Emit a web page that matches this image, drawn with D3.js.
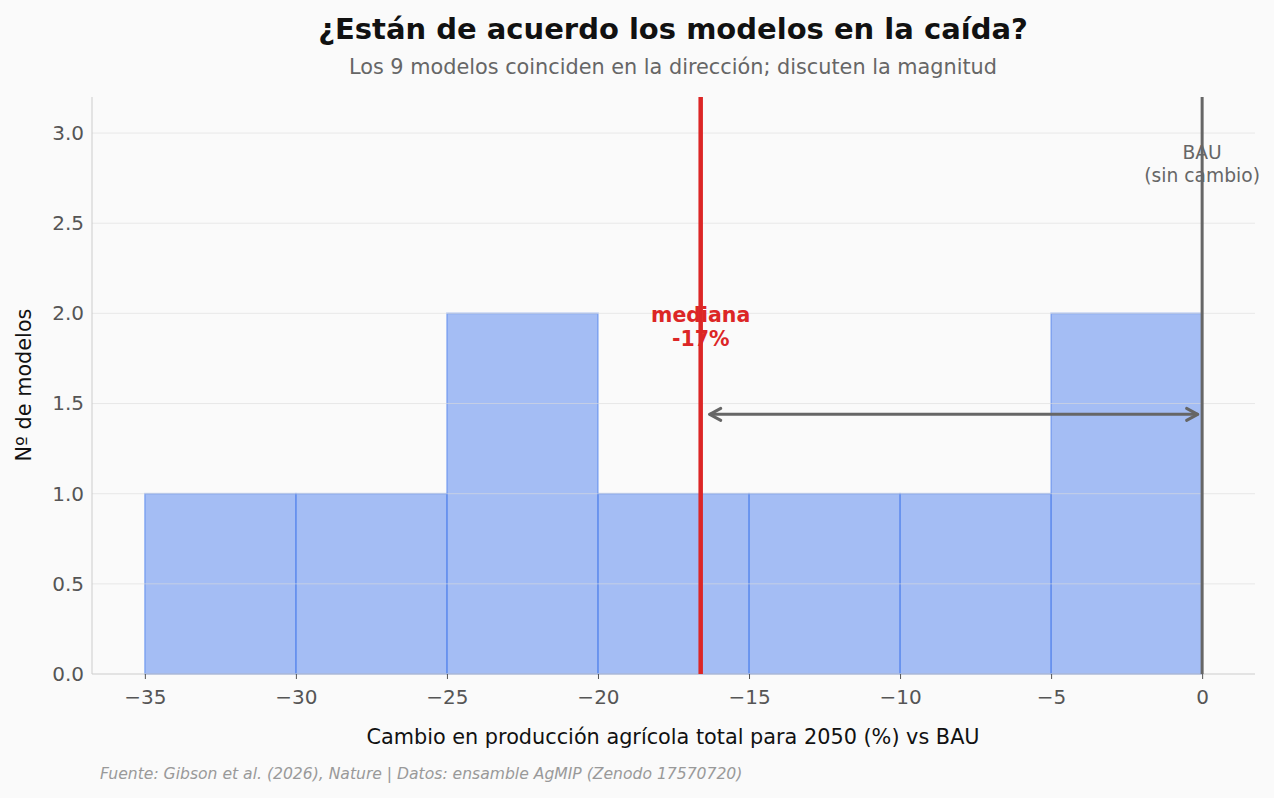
<!DOCTYPE html>
<html>
<head>
<meta charset="utf-8">
<script src="https://cdn.jsdelivr.net/npm/d3@7"></script>
<style>
  html, body { margin: 0; padding: 0; background: #fafafa; }
  svg { display: block; font-family: "DejaVu Sans", sans-serif; }
</style>
</head>
<body>
<svg id="chart" width="1274" height="798"></svg>
<script>
// ---- Data ----
const binStarts = [-35, -30, -25, -20, -15, -10, -5];
const binWidth = 5;
const binCounts = [1, 1, 2, 1, 1, 1, 2];
const medianValue = -16.6;
const medianLabel = ["mediana", "-17%"];
const bauValue = 0;
const bauLabel = ["BAU", "(sin cambio)"];
const xTicks = [-35, -30, -25, -20, -15, -10, -5, 0];
const yTicks = [0, 0.5, 1.0, 1.5, 2.0, 2.5, 3.0];
const arrowY = 1.44;
const arrowFrom = -16.3;
const arrowTo = -0.15;

// ---- Layout ----
const svg = d3.select("#chart");
const W = 1274, H = 798;
const m = { left: 92, right: 1255, top: 97, bottom: 674 };

svg.append("rect").attr("width", W).attr("height", H).attr("fill", "#fafafa");

const x = d3.scaleLinear().domain([-36.75, 1.75]).range([m.left, m.right]);
const y = d3.scaleLinear().domain([0, 3.2]).range([m.bottom, m.top]);

// Bars
const barColor = "#4e80ee";
svg.append("g").selectAll("rect")
  .data(binStarts.map((s, i) => ({ s, c: binCounts[i] })))
  .join("rect")
  .attr("x", d => x(d.s))
  .attr("y", d => y(d.c))
  .attr("width", d => x(d.s + binWidth) - x(d.s))
  .attr("height", d => y(0) - y(d.c))
  .attr("fill", barColor).attr("fill-opacity", 0.5)
  .attr("stroke", barColor).attr("stroke-opacity", 0.5).attr("stroke-width", 1.6);

// Gridlines (on top, light)
svg.append("g").selectAll("line")
  .data(yTicks.filter(v => v > 0))
  .join("line")
  .attr("x1", m.left).attr("x2", m.right)
  .attr("y1", d => y(d)).attr("y2", d => y(d))
  .attr("stroke", "#dcdcdc").attr("stroke-opacity", 0.6).attr("stroke-width", 1);

// Axes spines
svg.append("line").attr("x1", m.left).attr("x2", m.left).attr("y1", m.top).attr("y2", m.bottom)
  .attr("stroke", "#cccccc").attr("stroke-width", 1);
svg.append("line").attr("x1", m.left).attr("x2", m.right).attr("y1", m.bottom).attr("y2", m.bottom)
  .attr("stroke", "#cccccc").attr("stroke-width", 1);

// X axis
const xAxis = d3.axisBottom(x).tickValues(xTicks).tickSize(5).tickPadding(11)
  .tickFormat(d => d < 0 ? "\u2212" + Math.abs(d) : String(d));
const gx = svg.append("g").attr("transform", `translate(0,${m.bottom})`).call(xAxis);
gx.attr("font-size", null).attr("font-family", null);
gx.select(".domain").remove();
gx.selectAll(".tick line").attr("stroke", "#555").attr("stroke-width", 1);
gx.selectAll(".tick text").attr("fill", "#555").style("font-size", "20px");

// Y axis
const yAxis = d3.axisLeft(y).tickValues(yTicks).tickSize(0).tickPadding(8)
  .tickFormat(d3.format(".1f"));
const gy = svg.append("g").attr("transform", `translate(${m.left},0)`).call(yAxis);
gy.attr("font-size", null).attr("font-family", null);
gy.select(".domain").remove();
gy.selectAll(".tick text").attr("fill", "#555").style("font-size", "20px");

// BAU line
svg.append("line").attr("x1", x(bauValue)).attr("x2", x(bauValue))
  .attr("y1", m.top).attr("y2", m.bottom)
  .attr("stroke", "#666666").attr("stroke-width", 3);

// Median line
svg.append("line").attr("x1", x(medianValue)).attr("x2", x(medianValue))
  .attr("y1", m.top).attr("y2", m.bottom)
  .attr("stroke", "#dc2626").attr("stroke-width", 4.5);

// Arrow
const ay = y(arrowY);
const ax1 = x(arrowFrom), ax2 = x(arrowTo);
const arrowG = svg.append("g").attr("stroke", "#666666").attr("stroke-width", 3)
  .attr("fill", "none").attr("stroke-linecap", "round").attr("stroke-linejoin", "round");
arrowG.append("line").attr("x1", ax1).attr("x2", ax2).attr("y1", ay).attr("y2", ay);
arrowG.append("path").attr("d", `M${ax1 + 11},${ay - 6} L${ax1},${ay} L${ax1 + 11},${ay + 6}`);
arrowG.append("path").attr("d", `M${ax2 - 11},${ay - 6} L${ax2},${ay} L${ax2 - 11},${ay + 6}`);

// Median label
const medText = svg.append("text").attr("text-anchor", "middle")
  .attr("fill", "#dc2626").attr("font-weight", "bold").attr("font-size", 20.5);
medianLabel.forEach((t, i) => {
  medText.append("tspan").attr("x", x(medianValue)).attr("y", 322 + i * 24).text(t);
});

// BAU label
const bauText = svg.append("text").attr("text-anchor", "middle")
  .attr("fill", "#666666").attr("font-size", 18.7);
bauLabel.forEach((t, i) => {
  bauText.append("tspan").attr("x", x(bauValue)).attr("y", 159 + i * 23).text(t);
});

// Titles
svg.append("text").attr("x", 673).attr("y", 39).attr("text-anchor", "middle")
  .attr("font-weight", "bold").attr("font-size", 29).attr("fill", "#111")
  .text("¿Están de acuerdo los modelos en la caída?");
svg.append("text").attr("x", 673).attr("y", 74).attr("text-anchor", "middle")
  .attr("font-size", 20.8).attr("fill", "#666")
  .text("Los 9 modelos coinciden en la dirección; discuten la magnitud");

// Axis labels
svg.append("text").attr("x", 673).attr("y", 744).attr("text-anchor", "middle")
  .attr("font-size", 20.8).attr("fill", "#111")
  .text("Cambio en producción agrícola total para 2050 (%) vs BAU");
svg.append("text").attr("transform", "translate(31,385) rotate(-90)").attr("text-anchor", "middle")
  .attr("font-size", 20.8).attr("fill", "#111")
  .text("Nº de modelos");

// Source
svg.append("text").attr("x", 100).attr("y", 779)
  .attr("font-size", 15.6).attr("font-style", "italic").attr("fill", "#999")
  .text("Fuente: Gibson et al. (2026), Nature | Datos: ensamble AgMIP (Zenodo 17570720)");
</script>
</body>
</html>
